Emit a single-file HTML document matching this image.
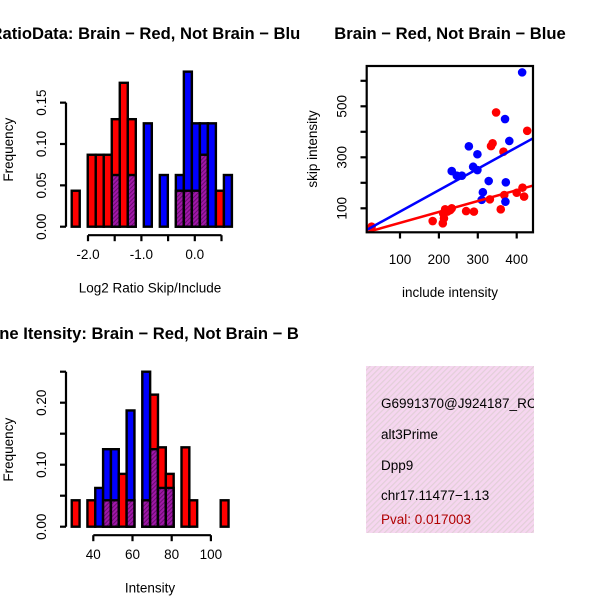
<!DOCTYPE html>
<html><head><meta charset="utf-8"><style>
body{margin:0;background:#fff}
svg{display:block;font-family:"Liberation Sans",sans-serif}
</style></head><body>
<svg id="fig" width="600" height="600" viewBox="0 0 600 600" xmlns="http://www.w3.org/2000/svg">
<defs>
<pattern id="hatch" patternUnits="userSpaceOnUse" width="3" height="3" patternTransform="rotate(45)">
<rect width="3" height="3" fill="#a018a8"/><rect width="1" height="3" fill="#6a0a70"/></pattern>
<pattern id="pinkhatch" patternUnits="userSpaceOnUse" width="4" height="4" patternTransform="rotate(45)">
<rect width="4" height="4" fill="#f6d6f0"/><rect width="1.2" height="4" fill="#e2cfd8"/></pattern>
<clipPath id="q1"><rect x="0" y="0" width="300" height="300"/></clipPath>
<clipPath id="q2"><rect x="300" y="0" width="300" height="300"/></clipPath>
<clipPath id="q3"><rect x="0" y="300" width="300" height="300"/></clipPath>
<clipPath id="q4"><rect x="300" y="300" width="234" height="300"/></clipPath>
<clipPath id="sbox"><rect x="366.7" y="66" width="166.3" height="166.3"/></clipPath>
</defs>
<g id="h1"></g>
<g id="sc"></g>
<g id="h2"></g>
<g clip-path="url(#q4)" font-size="13.5">
<rect x="366" y="366" width="168" height="167" fill="url(#pinkhatch)"/>
<text x="381" y="408">G6991370@J924187_RC</text>
<text x="381" y="439">alt3Prime</text>
<text x="381" y="470">Dpp9</text>
<text x="381" y="500">chr17.11477−1.13</text>
<text x="381" y="524" fill="#b00000">Pval: 0.017003</text>
</g>
</svg>
<script>
// ---- Histogram 1 data (Log2 ratio) ----
const h1BinStart = -2.305;
const h1BinWidth = 0.15;
const h1Red  = [0.0435,0,0.087,0.087,0.087,0.13,0.174,0.13,0,0,0,0,0,0.0435,0.0435,0.0435,0.087,0,0.0435,0];
const h1Blue = [0,0,0,0,0,0.0625,0,0.0625,0,0.125,0,0.0625,0,0.0625,0.1875,0.125,0.125,0.125,0,0.0625];
const h1XTicks = [-2,-1.5,-1,-0.5,0,0.5];
const h1XLabels = ["-2.0","","-1.0","","0.0",""];
const h1YTicks = [0,0.05,0.10,0.15];
const h1YLabels = ["0.00","0.05","0.10","0.15"];
// ---- Histogram 2 data (Intensity) ----
const h2BinStart = 29;
const h2BinWidth = 4;
const h2Red  = [0.0426,0,0.0426,0,0.0426,0.0426,0.0852,0.0426,0,0.0426,0.213,0.128,0.0852,0,0.128,0.0426,0,0,0,0.0426];
const h2Blue = [0,0,0,0.0625,0.125,0.125,0,0.1875,0,0.25,0.125,0.0625,0.0625,0,0,0,0,0,0,0];
const h2XTicks = [40,60,80,100];
const h2XLabels = ["40","60","80","100"];
const h2YTicks = [0,0.05,0.10,0.15,0.20,0.25];
const h2YLabels = ["0.00","","0.10","","0.20",""];
// ---- Scatter data ----
const blueX = [414,370,381,277,299,233,246,259,288,299,328,372,313,310,371];
const blueY = [633,450,364,343,312,246,228,228,263,250,207,202,163,133,126];
const redX = [27,347,427,338,334,366,216,222,229,233,211,213,210,184,270,290,331,359,368,400,415,419];
const redY = [28,476,404,355,344,322,96,87,93,100,80,61,41,50,89,87,135,96,152,161,181,146];
const fitIntercept = [3.2, 0];   // blue, red
const fitSlope = [0.84, 0.4275];
const scXTicks = [100,200,300,400];
const scYTicks = [100,200,300,400,500,600];
const scYLabels = ["100","","300","","500",""];

const TF=13.5, TTL=16.6;
const NS="http://www.w3.org/2000/svg";
function mk(parent,tag,attrs,txt){const e=document.createElementNS(NS,tag);for(const k in attrs)e.setAttribute(k,attrs[k]);if(txt!==undefined)e.textContent=txt;parent.appendChild(e);return e;}

function hist(gid,clip,binStart,binW,red,blue,xs,ys,xT,xL,yT,yL,title,xlab,titleY){
  const g=document.getElementById(gid);
  g.setAttribute('clip-path','url(#'+clip+')');
  red.forEach((r,i)=>{
    const b=blue[i];
    const x0=xs(binStart+i*binW), x1=xs(binStart+(i+1)*binW);
    const hi=Math.max(r,b), lo=Math.min(r,b);
    if(hi<=0)return;
    const col=r>=b?'#ff0000':'#0000ff';
    const el=mk(g,'rect',{x:x0,y:ys(hi),width:x1-x0,height:ys(0)-ys(hi),fill:col,stroke:'#000','stroke-width':2.4});
    
    
    if(lo>0){
      const p=mk(g,'rect',{x:x0,y:ys(lo),width:x1-x0,height:ys(0)-ys(lo),fill:'url(#hatch)',stroke:'#000','stroke-width':2.4});
      
      
    }
  });
  const base=ys(0);
  const ax=mk(g,'g',{});
  
  
  const axY=base+8.5;
  mk(ax,'line',{x1:xs(xT[0]),x2:xs(xT[xT.length-1]),y1:axY,y2:axY,stroke:'#000','stroke-width':2.2});
  xT.forEach((t,i)=>{mk(ax,'line',{x1:xs(t),x2:xs(t),y1:axY,y2:axY+6,stroke:'#000','stroke-width':2.2});
    if(xL[i])mk(ax,'text',{x:xs(t),y:axY+24,'text-anchor':'middle','font-size':TF},xL[i]);});
  const ay=mk(g,'g',{});
  
  
  const axX=66;
  mk(ay,'line',{x1:axX,x2:axX,y1:ys(yT[0]),y2:ys(yT[yT.length-1]),stroke:'#000','stroke-width':2.2});
  yT.forEach((t,i)=>{mk(ay,'line',{x1:axX,x2:axX-6,y1:ys(t),y2:ys(t),stroke:'#000','stroke-width':2.2});
    if(yL[i])mk(ay,'text',{x:0,y:0,'text-anchor':'middle','font-size':TF,transform:`translate(${axX-20},${ys(t)}) rotate(-90)`},yL[i]);});
  const tt=mk(g,'text',{x:150,y:titleY,'text-anchor':'middle','font-size':TTL,'font-weight':'bold'},title);
  
  
  const xl=mk(g,'text',{x:150,y:base+66,'text-anchor':'middle','font-size':TF},xlab);
  
  
  const yl=mk(g,'text',{x:0,y:0,'text-anchor':'middle','font-size':TF,transform:`translate(13,${base-77}) rotate(-90)`},'Frequency');
  
  
}
hist('h1','q1',h1BinStart,h1BinWidth,h1Red,h1Blue,
  v=>88+(v+2)*53.4, v=>226.7-v*827, h1XTicks,h1XLabels,h1YTicks,h1YLabels,
  'RatioData: Brain − Red, Not Brain − Blue','Log2 Ratio Skip/Include',39);
hist('h2','q3',h2BinStart,h2BinWidth,h2Red,h2Blue,
  v=>93.3+(v-40)*1.96, v=>526.7-v*620, h2XTicks,h2XLabels,h2YTicks,h2YLabels,
  'Gene Itensity: Brain − Red, Not Brain − Blue','Intensity',339);

(function(){
  const g=document.getElementById('sc');
  const xs=v=>400+(v-100)*0.389, ys=v=>208.3-(v-100)*0.255;
  const pts=mk(g,'g',{'clip-path':'url(#sbox)'});
  redX.forEach((x,i)=>{const c=mk(pts,'circle',{cx:xs(x),cy:ys(redY[i]),r:4.3,fill:'#ff0000'});
    
    });
  blueX.forEach((x,i)=>{const c=mk(pts,'circle',{cx:xs(x),cy:ys(blueY[i]),r:4.3,fill:'#0000ff'});
    
    });
  ['#0000ff','#ff0000'].forEach((col,k)=>{
    const l=mk(pts,'line',{x1:xs(14),y1:ys(fitIntercept[k]+fitSlope[k]*14),x2:xs(442),y2:ys(fitIntercept[k]+fitSlope[k]*442),stroke:col,'stroke-width':2.5});
    
    
  });
  mk(g,'rect',{x:366.7,y:66,width:166.3,height:166.3,fill:'none',stroke:'#000','stroke-width':2.2});
  const ax=mk(g,'g',{});
  
  
  scXTicks.forEach(t=>{mk(ax,'line',{x1:xs(t),x2:xs(t),y1:232.3,y2:238.5,stroke:'#000','stroke-width':2.2});
    mk(ax,'text',{x:xs(t),y:264,'text-anchor':'middle','font-size':TF},String(t));});
  const ay=mk(g,'g',{});
  
  
  scYTicks.forEach((t,i)=>{mk(ay,'line',{x1:366.7,x2:360.5,y1:ys(t),y2:ys(t),stroke:'#000','stroke-width':2.2});
    if(scYLabels[i])mk(ay,'text',{x:0,y:0,'text-anchor':'middle','font-size':TF,transform:`translate(346.5,${ys(t)}) rotate(-90)`},scYLabels[i]);});
  const tt=mk(g,'text',{x:450,y:39,'text-anchor':'middle','font-size':TTL,'font-weight':'bold'},'Brain − Red, Not Brain − Blue');
  
  
  const xl=mk(g,'text',{x:450,y:297,'text-anchor':'middle','font-size':TF},'include intensity');
  
  
  const yl=mk(g,'text',{x:0,y:0,'text-anchor':'middle','font-size':TF,transform:'translate(317,149) rotate(-90)'},'skip intensity');
  
  
})();
</script>
</body></html>
